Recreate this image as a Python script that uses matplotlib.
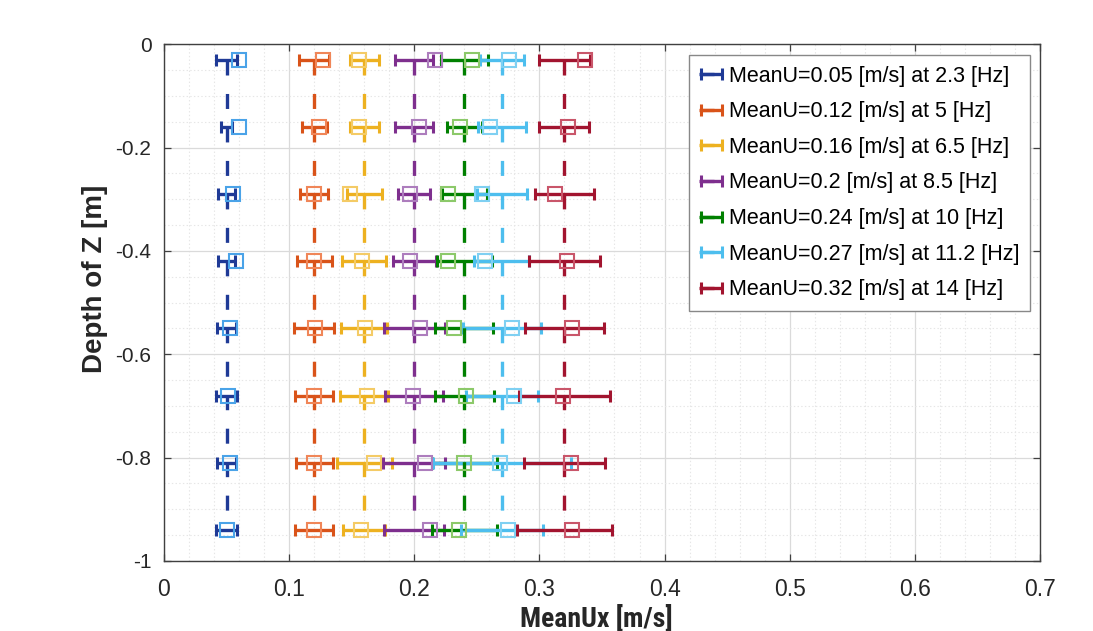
import matplotlib
matplotlib.use('Agg')
import matplotlib.pyplot as plt
from matplotlib import font_manager
from matplotlib.ticker import MultipleLocator, FuncFormatter

# depth of each measuring point [m]
depth = [-0.03, -0.16, -0.29, -0.42, -0.55, -0.68, -0.81, -0.94]

# nominal mean velocity and pump frequency of each run
mean_u = [0.05, 0.12, 0.16, 0.20, 0.24, 0.27, 0.32]
freq = ['2.3', '5', '6.5', '8.5', '10', '11.2', '14']

# half width of the horizontal error bars, per depth
err_005 = [0.0086, 0.0046, 0.0066, 0.0066, 0.0074, 0.0084, 0.0074, 0.0084]
err_012 = [0.0118, 0.0099, 0.0113, 0.0139, 0.0158, 0.0153, 0.0147, 0.0153]
err_016 = [0.0117, 0.0117, 0.0140, 0.0178, 0.0185, 0.0193, 0.0220, 0.0167]
err_020 = [0.0153, 0.0150, 0.0127, 0.0172, 0.0245, 0.0230, 0.0247, 0.0241]
err_024 = [0.0187, 0.0140, 0.0180, 0.0220, 0.0233, 0.0237, 0.0260, 0.0260]
err_027 = [0.0176, 0.0190, 0.0202, 0.0220, 0.0310, 0.0290, 0.0550, 0.0330]
err_032 = [0.0202, 0.0200, 0.0233, 0.0282, 0.0318, 0.0362, 0.0327, 0.0380]

# measured mean Ux at each depth (square markers)
ux_005 = [0.0600, 0.0600, 0.0554, 0.0575, 0.0530, 0.0514, 0.0530, 0.0500]
ux_012 = [0.1274, 0.1240, 0.1195, 0.1195, 0.1207, 0.1195, 0.1195, 0.1195]
ux_016 = [0.1560, 0.1560, 0.1490, 0.1580, 0.1607, 0.1620, 0.1680, 0.1575]
ux_020 = [0.2166, 0.2040, 0.1970, 0.1970, 0.2046, 0.1990, 0.2086, 0.2126]
ux_024 = [0.2460, 0.2366, 0.2270, 0.2270, 0.2320, 0.2413, 0.2400, 0.2355]
ux_027 = [0.2760, 0.2606, 0.2545, 0.2566, 0.2780, 0.2797, 0.2686, 0.2750]
ux_032 = [0.3365, 0.3230, 0.3125, 0.3217, 0.3257, 0.3190, 0.3250, 0.3263]

errs = [err_005, err_012, err_016, err_020, err_024, err_027, err_032]
uxs = [ux_005, ux_012, ux_016, ux_020, ux_024, ux_027, ux_032]

line_colors = ['#1f3a96', '#d95319', '#edb120', '#7e2f8e', '#008000', '#4dbeee', '#a2142f']
square_colors = ['#4aa3e8', '#f08658', '#f4cb66', '#ad7dbd', '#8cc96a', '#7fd0f2', '#c9566a']


def _weight(f):
    w = f.weight
    if isinstance(w, str):
        w = font_manager.weight_dict.get(w, 400)
    return w


def pick_bold(candidates):
    for name in candidates:
        if any(f.name == name and _weight(f) >= 600 for f in font_manager.fontManager.ttflist):
            return name
    return 'DejaVu Sans'


bold_font = pick_bold(['Liberation Sans', 'Roboto', 'Noto Sans', 'Open Sans', 'Lato'])
narrow_font = pick_bold(['Liberation Sans Narrow', 'Roboto Condensed', bold_font])

plt.rcParams['axes.unicode_minus'] = False
plt.rcParams['lines.scale_dashes'] = False
plt.rcParams['lines.dashed_pattern'] = [10.8, 13.3]
plt.rcParams['font.family'] = ['Liberation Sans', 'DejaVu Sans']

fig = plt.figure(figsize=(10.93, 6.31), dpi=100)
ax = fig.add_axes([0.150, 0.111, 0.8015, 0.819])

for u, f, err, ux, lc, sc in zip(mean_u, freq, errs, uxs, line_colors, square_colors):
    ax.errorbar([u] * len(depth), depth, xerr=err, fmt='--', color=lc,
                lw=2.4, elinewidth=2.4, capsize=4, capthick=2.2,
                label='MeanU={:g} [m/s] at {} [Hz]'.format(u, f), zorder=3)
    ax.plot(ux, depth, 's', mfc='none', mec=sc, ms=10, mew=1.5, zorder=4)

ax.set_xlim(0, 0.7)
ax.set_ylim(-1, 0)
ax.xaxis.set_major_locator(MultipleLocator(0.1))
ax.xaxis.set_minor_locator(MultipleLocator(0.02))
ax.yaxis.set_major_locator(MultipleLocator(0.2))
ax.yaxis.set_minor_locator(MultipleLocator(0.05))
fmt = FuncFormatter(lambda v, p: '{:g}'.format(round(v, 3)))
ax.xaxis.set_major_formatter(fmt)
ax.yaxis.set_major_formatter(fmt)

ax.set_axisbelow(True)
ax.grid(which='major', color='#dadada', lw=0.9)
ax.grid(which='minor', color='#e6e6e6', lw=0.8, ls=':')
ax.tick_params(which='major', direction='in', top=True, right=True,
               length=5, width=0.9, color='#404040', labelcolor='#262626')
ax.tick_params(axis='x', labelsize=16.5, pad=12)
ax.tick_params(axis='y', labelsize=15, pad=9)
ax.tick_params(which='minor', length=0)
for s in ax.spines.values():
    s.set_color('#404040')
    s.set_linewidth(1.0)

xl_size = 20 if narrow_font != bold_font else 18
ax.set_xlabel('MeanUx [m/s]', fontsize=xl_size, fontweight='bold',
              family=[narrow_font, 'DejaVu Sans'], color='#262626')
ax.xaxis.set_label_coords(0.494, -0.085)
ax.set_ylabel('Depth of Z [m]', fontsize=20, fontweight='bold',
              family=[bold_font, 'DejaVu Sans'], color='#262626')
ax.yaxis.set_label_coords(-0.064, 0.545)

leg = ax.legend(loc='upper right', bbox_to_anchor=(0.9886, 0.9787), borderaxespad=0,
                fontsize=15.5, fancybox=False, edgecolor='#888888', framealpha=1,
                handlelength=1.15, handletextpad=0.24, labelspacing=0.68, borderpad=0.48)
leg.get_frame().set_linewidth(1.0)

fig.savefig('out.png', dpi=100)
